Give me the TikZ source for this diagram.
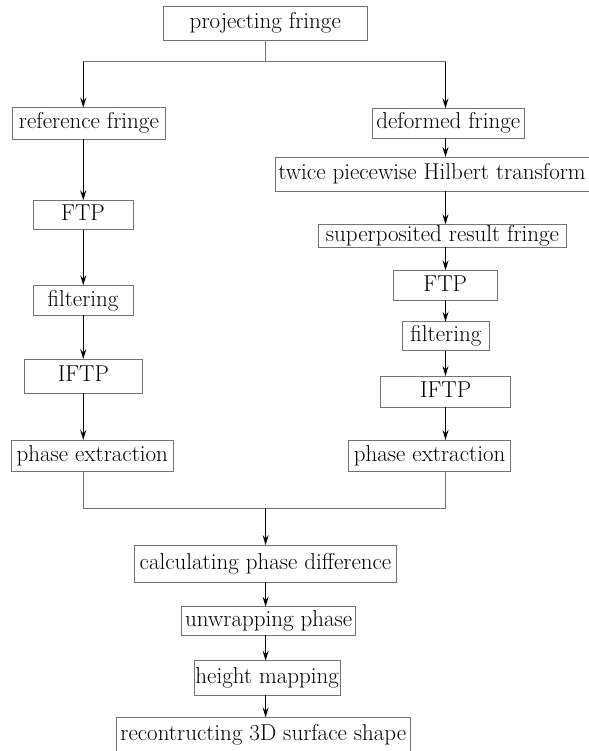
\documentclass[tikz,border=0pt]{standalone}
\usetikzlibrary{arrows.meta}
\begin{document}
\begin{tikzpicture}[x=1pt,y=-1pt,
  box/.style={draw=black!55, line width=0.8pt, inner sep=0pt, outer sep=0pt,
    font=\fontsize{23}{27}\selectfont, text height=15.8pt, text depth=4.4pt},
  thinline/.style={draw=black!55, line width=0.8pt},
  arr/.style={draw=black, line width=1pt, -{Stealth[length=10pt,width=6pt,inset=3.5pt]}},
  arrL/.style={arr, line width=1.3pt}]
\useasboundingbox (0,0) rectangle (588,751);
% column x positions
\coordinate (sL) at (83.25,61.7);
\coordinate (sR) at (445.5,61.7);
\coordinate (mL) at (83.25,508);
\coordinate (mR) at (445.5,508);
\coordinate (M) at (265.6,0);
% nodes
\node[box, minimum width=204pt, minimum height=34.7pt] (proj) at (265.3,23.3) {projecting fringe};
\node[box, minimum width=153pt, minimum height=31.3pt] (ref) at (88.9,123.3) {reference fringe};
\node[box, minimum width=152pt, minimum height=30pt] (def) at (448.3,123.3) {deformed fringe};
\node[box, minimum width=314pt, minimum height=34pt] (hil) at (432,174) {twice piecewise Hilbert transform};
\node[box, minimum width=247.5pt, minimum height=23pt] (sup) at (442.5,235.8) {superposited result fringe};
\node[box, minimum width=100pt, minimum height=29.4pt] (lftp) at (83,215) {FTP};
\node[box, minimum width=100pt, minimum height=30pt] (lfilt) at (83,300.3) {filtering};
\node[box, minimum width=104.6pt, minimum height=30pt] (rftp) at (445.3,285.3) {FTP};
\node[box, minimum width=87pt, minimum height=29pt] (rfilt) at (445.9,336.2) {filtering};
\node[box, minimum width=117.4pt, minimum height=34.3pt] (lifp) at (83.4,376.2) {IFTP};
\node[box, minimum width=130pt, minimum height=31.3pt] (rifp) at (445.7,391.7) {IFTP};
\node[box, minimum width=162pt, minimum height=31.7pt] (lph) at (92.25,455.8) {phase extraction};
\node[box, minimum width=162.4pt, minimum height=31.7pt] (rph) at (429.6,455.8) {phase extraction};
\node[box, minimum width=262.5pt, minimum height=37.3pt] (calc) at (265.5,563.7) {calculating phase difference};
\node[box, minimum width=174pt, minimum height=28.3pt] (unw) at (268.7,620.8) {unwrapping phase};
\node[box, minimum width=145.7pt, minimum height=34.3pt] (hgt) at (267.2,677.8) {height mapping};
\node[box, minimum width=293.3pt, minimum height=34.5pt] (rec) at (263.3,734.6) {recontructing 3D surface shape};
% split
\draw[thinline] (proj.south) -- (proj.south |- sL);
\draw[thinline] (sL) -- (sR);
\draw[arrL] (sL) -- (ref.north -| sL);
\draw[arrL] (sR) -- (def.north -| sR);
% left column
\draw[arrL] (ref.south -| sL) -- (lftp.north -| sL);
\draw[arrL] (lftp.south -| sL) -- (lfilt.north -| sL);
\draw[arrL] (lfilt.south -| sL) -- (lifp.north -| sL);
\draw[arrL] (lifp.south -| sL) -- (lph.north -| sL);
% right column
\draw[arr] (def.south -| sR) -- (hil.north -| sR);
\draw[arr] (hil.south -| sR) -- (sup.north -| sR);
\draw[arr] (sup.south -| sR) -- (rftp.north -| sR);
\draw[arr] (rftp.south -| sR) -- (rfilt.north -| sR);
\draw[arr] (rfilt.south -| sR) -- (rifp.north -| sR);
\draw[arr] (rifp.south -| sR) -- (rph.north -| sR);
% merge
\draw[thinline] (lph.south -| mL) -- (mL) -- (mR) -- (rph.south -| mR);
\draw[arr] (mL -| M) -- (calc.north -| M);
\draw[arr] (calc.south -| M) -- (unw.north -| M);
\draw[arr] (unw.south -| M) -- (hgt.north -| M);
\draw[arr] (hgt.south -| M) -- (rec.north -| M);
\end{tikzpicture}
\end{document}
